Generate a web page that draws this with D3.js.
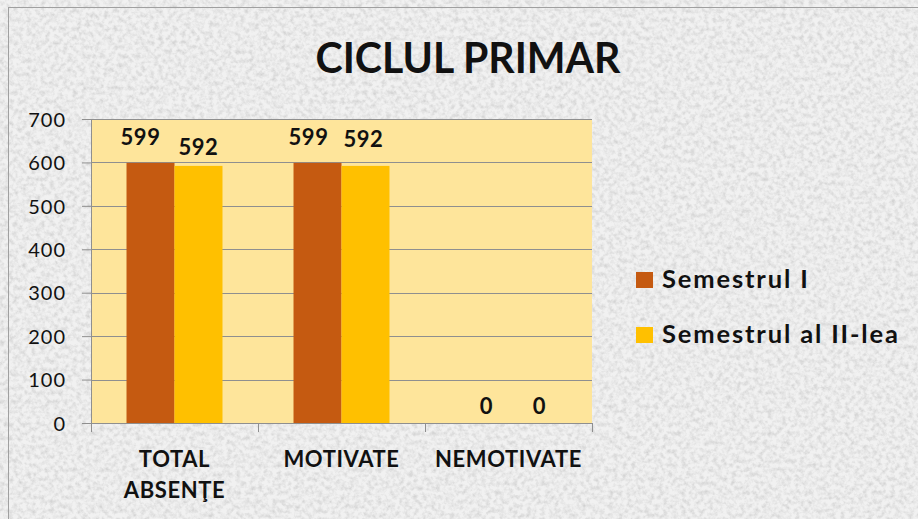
<!DOCTYPE html>
<html>
<head>
<meta charset="utf-8">
<script src="https://cdn.jsdelivr.net/npm/d3@7"></script>
<style>
  html, body { margin: 0; padding: 0; background: #ececec; }
  #chart { width: 918px; height: 519px; overflow: hidden; }
  text { font-family: Lato, "Open Sans", sans-serif; fill: #111; }
</style>
</head>
<body>
<div id="chart"></div>
<script>
const categories = [["TOTAL", "ABSENŢE"], ["MOTIVATE"], ["NEMOTIVATE"]];
const seriesNames = ["Semestrul I", "Semestrul al II-lea"];
const sem1 = [599, 599, 0];
const sem2 = [592, 592, 0];
const yTicks = [0, 100, 200, 300, 400, 500, 600, 700];
const colors = ["#C55A11", "#FFC000"];

// data labels were dragged by hand in the original, keep their nudges apart
const labelShift = [
  [[-10, 18], [-9, 18], [2, 9]],
  [[0, 11], [-2, 19], [7, 9]]
];

const width = 918, height = 519;
const plot = { left: 91, top: 119, right: 592, bottom: 423 };

const svg = d3.select('#chart').append('svg')
  .attr('width', width)
  .attr('height', height);

// granite-like background texture
const defs = svg.append('defs');
const f = defs.append('filter').attr('id', 'granite')
  .attr('x', 0).attr('y', 0).attr('width', '100%').attr('height', '100%');
f.append('feTurbulence')
  .attr('type', 'fractalNoise')
  .attr('baseFrequency', 0.22)
  .attr('numOctaves', 3)
  .attr('seed', 7)
  .attr('result', 'noise');
f.append('feColorMatrix')
  .attr('in', 'noise')
  .attr('type', 'matrix')
  .attr('values', '0 0 0 0 0.64  0 0 0 0 0.64  0 0 0 0 0.64  -1.9 0 0 0 1.18')
  .attr('result', 'specks');
f.append('feFlood').attr('flood-color', '#f1f1f1').attr('result', 'base');
f.append('feComposite').attr('in', 'specks').attr('in2', 'base').attr('operator', 'over');

svg.append('rect')
  .attr('width', width).attr('height', height)
  .attr('fill', '#efefef')
  .attr('filter', 'url(#granite)');

// chart frame (only top/left edges visible in the crop)
svg.append('rect')
  .attr('x', 8.5).attr('y', 7.5)
  .attr('width', width + 10).attr('height', height + 10)
  .attr('fill', 'none')
  .attr('stroke', '#a0a0a0')
  .attr('stroke-width', 1);

const x0 = d3.scaleBand()
  .domain(d3.range(categories.length))
  .range([plot.left, plot.right]);

const x1 = d3.scaleBand()
  .domain([0, 1])
  .range([0, x0.bandwidth()])
  .paddingOuter(0.74);

const y = d3.scaleLinear()
  .domain([0, 700])
  .range([plot.bottom, plot.top]);

// plot area
svg.append('rect')
  .attr('x', plot.left).attr('y', plot.top)
  .attr('width', plot.right - plot.left)
  .attr('height', plot.bottom - plot.top)
  .attr('fill', '#FEE59B');

// gridlines
svg.append('g')
  .selectAll('line')
  .data(yTicks.slice(1))
  .join('line')
  .attr('x1', plot.left).attr('x2', plot.right)
  .attr('y1', d => Math.round(y(d)) + 0.5).attr('y2', d => Math.round(y(d)) + 0.5)
  .attr('stroke', '#8f8f8f');

// y axis
const yAxis = svg.append('g')
  .attr('transform', `translate(${plot.left},0)`)
  .call(d3.axisLeft(y).tickValues(yTicks).tickSize(9).tickPadding(16).tickFormat(d3.format('d')));
yAxis.select('.domain').attr('stroke', '#8f8f8f');
yAxis.selectAll('.tick line').attr('stroke', '#8f8f8f');
yAxis.selectAll('.tick text')
  .attr('font-size', 20)
  .attr('font-family', 'Lato, sans-serif')
  .attr('letter-spacing', 1)
  .attr('dy', '0.36em')
  .attr('fill', '#222');

// bars
const series = [sem1, sem2];
const groups = svg.append('g')
  .selectAll('g')
  .data(categories.map((c, i) => i))
  .join('g')
  .attr('transform', i => `translate(${x0(i)},0)`);

groups.selectAll('rect')
  .data(i => series.map((s, k) => ({ k, i, v: s[i] })))
  .join('rect')
  .attr('x', d => x1(d.k))
  .attr('width', x1.bandwidth())
  .attr('y', d => y(d.v))
  .attr('height', d => y(0) - y(d.v))
  .attr('fill', d => colors[d.k]);

groups.selectAll('text.val')
  .data(i => series.map((s, k) => ({ k, i, v: s[i] })))
  .join('text')
  .attr('class', 'val')
  .attr('x', d => x1(d.k) + x1.bandwidth() / 2 + labelShift[d.k][d.i][0])
  .attr('y', d => y(d.v) - labelShift[d.k][d.i][1])
  .attr('text-anchor', 'middle')
  .attr('font-size', 22)
  .attr('font-weight', 'bold')
  .attr('letter-spacing', 0.5)
  .text(d => d.v);

// x axis
const xAxisG = svg.append('g');
xAxisG.append('line')
  .attr('x1', plot.left).attr('x2', plot.right)
  .attr('y1', plot.bottom + 0.5).attr('y2', plot.bottom + 0.5)
  .attr('stroke', '#8f8f8f');
xAxisG.selectAll('line.tk')
  .data(d3.range(categories.length + 1))
  .join('line')
  .attr('class', 'tk')
  .attr('x1', i => (i < categories.length ? x0(i) : plot.right) + 0.5)
  .attr('x2', i => (i < categories.length ? x0(i) : plot.right) + 0.5)
  .attr('y1', plot.bottom).attr('y2', plot.bottom + 9)
  .attr('stroke', '#8f8f8f');

const catLabels = xAxisG.selectAll('text.cat')
  .data(categories)
  .join('text')
  .attr('class', 'cat')
  .attr('text-anchor', 'middle')
  .attr('font-size', 22)
  .attr('font-weight', 'bold')
  .attr('letter-spacing', 0.6)
  .attr('y', 467);
catLabels.selectAll('tspan')
  .data((d, i) => d.map((t, j) => ({ t, j, i })))
  .join('tspan')
  .attr('x', d => x0(d.i) + x0.bandwidth() / 2)
  .attr('dy', d => d.j === 0 ? 0 : 31)
  .text(d => d.t);

// title
const title = svg.append('text')
  .attr('x', 468)
  .attr('y', 73)
  .attr('text-anchor', 'middle')
  .attr('font-size', 41)
  .attr('font-weight', 'bold')
  .text('CICLUL PRIMAR');
const tw = title.node().getComputedTextLength();
if (tw > 0) title.attr('font-size', 41 * 305 / tw);

// legend
const legend = svg.append('g')
  .selectAll('g')
  .data(seriesNames)
  .join('g')
  .attr('transform', (d, i) => `translate(636,${272 + i * 55})`);
legend.append('rect')
  .attr('width', 17).attr('height', 16)
  .attr('fill', (d, i) => colors[i]);
legend.append('text')
  .attr('x', 26).attr('y', 16)
  .attr('font-size', 25.5)
  .attr('font-weight', 'bold')
  .attr('letter-spacing', 1.85)
  .text(d => d);
</script>
</body>
</html>
